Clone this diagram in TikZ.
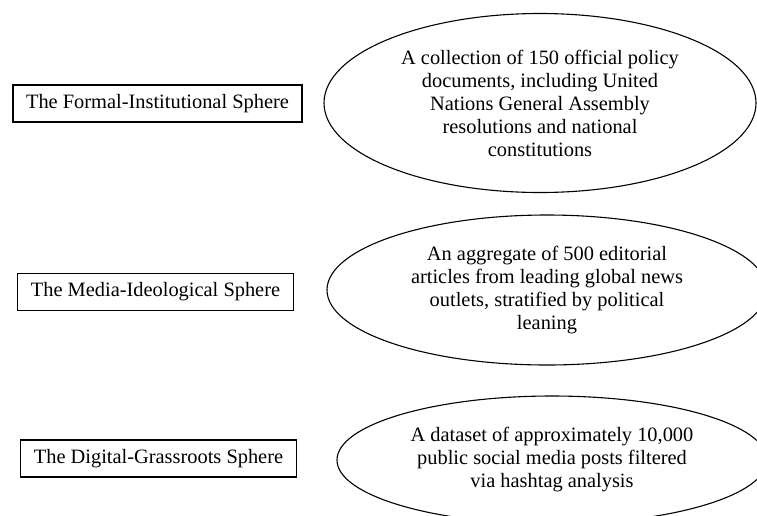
\documentclass[tikz,border=0pt]{standalone}
\usepackage{fontspec}
\setmainfont{Liberation Serif}
\usetikzlibrary{shapes.geometric}
\tikzset{
  sphere/.style={draw, line width=1.2pt, rectangle, inner xsep=13pt, inner ysep=0pt,
    minimum height=37pt, font=\fontsize{20.4}{23}\selectfont},
  corpus/.style={draw, line width=1.1pt, ellipse, inner sep=0pt, align=center,
    font=\fontsize{20.4}{23}\selectfont}
}
\begin{document}
\begin{tikzpicture}[x=1pt,y=-1pt]
\useasboundingbox (0,0) rectangle (757,515);
\begin{scope}
\clip (0,0) rectangle (757,515);
\node[sphere] (s1) at (157.5,103.5) {The Formal-Institutional Sphere};
\node[sphere] (s2) at (155.5,292) {The Media-Ideological Sphere};
\node[sphere] (s3) at (158.5,458.5) {The Digital-Grassroots Sphere};
\node[corpus, minimum width=432pt, minimum height=179pt] (e1) at (540,103)
  {A collection of 150 official policy\\documents, including United\\Nations General Assembly\\resolutions and national\\constitutions};
\node[corpus, minimum width=440pt, minimum height=150pt] (e2) at (547,290)
  {An aggregate of 500 editorial\\articles from leading global news\\outlets, stratified by political\\leaning};
\node[corpus, minimum width=430pt, minimum height=128pt] (e3) at (552,460)
  {A dataset of approximately 10,000\\public social media posts filtered\\via hashtag analysis};
\end{scope}
\end{tikzpicture}
\end{document}
